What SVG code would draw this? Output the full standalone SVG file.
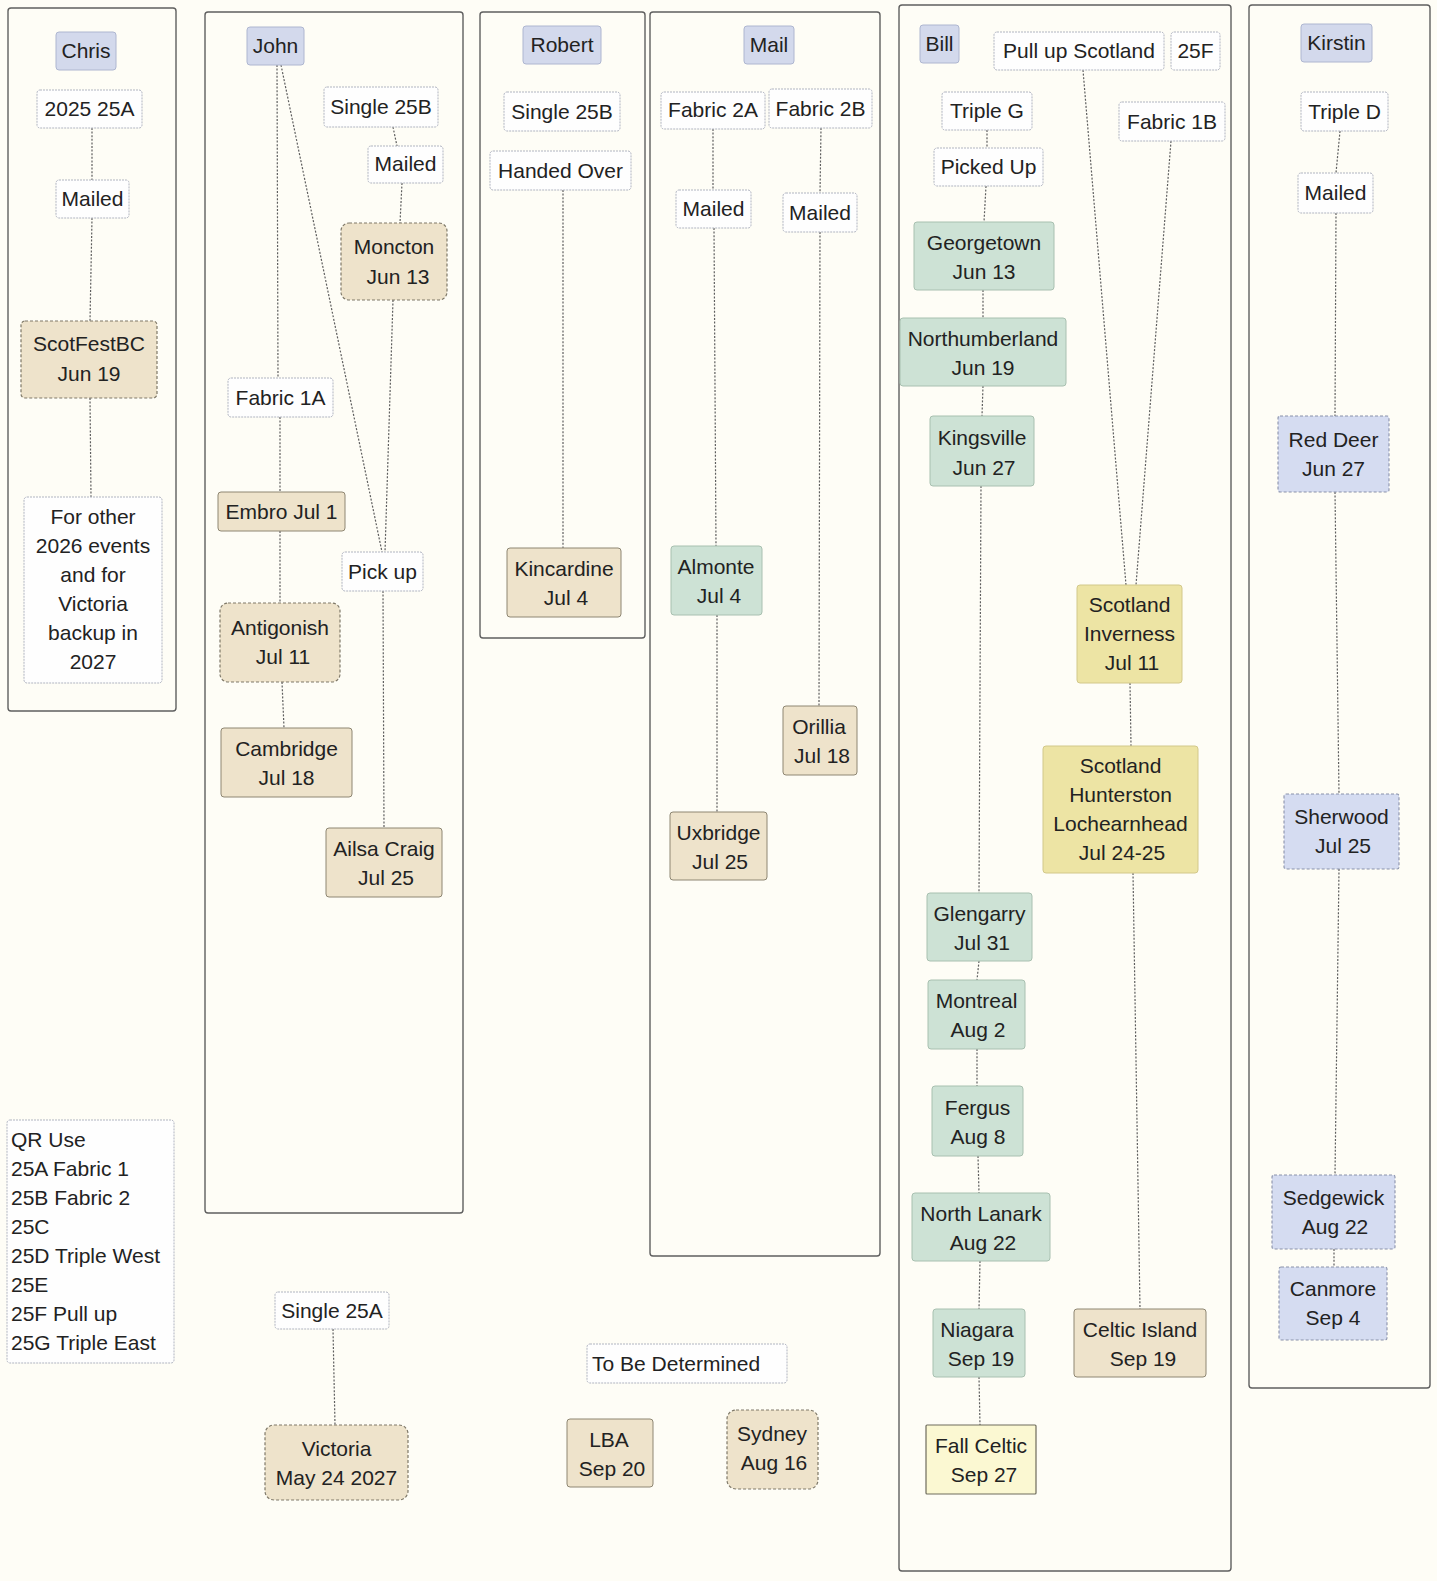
<svg xmlns="http://www.w3.org/2000/svg" width="1437" height="1581" viewBox="0 0 1437 1581">
<style>
text{font-family:"Liberation Sans",Arial,sans-serif;font-size:21px;fill:#222;text-anchor:middle}
.l{text-anchor:start}
.frame{fill:#fefdf6;stroke:#5f5f5f;stroke-width:1.4}
.who{fill:#d3d9ec;stroke:#aeb6d0;stroke-width:1}
.w{fill:#fefefe;stroke:#b0b4c0;stroke-width:1;stroke-dasharray:2 1}
.tan{fill:#eee3cb;stroke:#8e8672;stroke-width:1}
.wav{fill:#eee3cb;stroke:#7e7868;stroke-width:1.2;stroke-dasharray:3 2}
.grn{fill:#cde2d5;stroke:#a8c0b0;stroke-width:1}
.yel{fill:#ede4a4;stroke:#d2c88a;stroke-width:1}
.pale{fill:#fbf8d2;stroke:#6e6c5c;stroke-width:1.2}
.blu{fill:#d5dcf1;stroke:#8a92aa;stroke-width:1.1;stroke-dasharray:3 2}
#connectors line{stroke:#5e5e5e;stroke-width:1.2;stroke-dasharray:2 1.6;fill:none}
</style>
<rect width="1437" height="1581" fill="#fefdf6"/>
<g id="frames">
<rect id="frame-chris" class="frame" x="8" y="8" width="168" height="703" rx="3"/>
<rect id="frame-john" class="frame" x="205" y="12" width="258" height="1201" rx="3"/>
<rect id="frame-robert" class="frame" x="480" y="12" width="165" height="626" rx="3"/>
<rect id="frame-mail" class="frame" x="650" y="12" width="230" height="1244" rx="3"/>
<rect id="frame-bill" class="frame" x="899" y="5" width="332" height="1566" rx="3"/>
<rect id="frame-kirstin" class="frame" x="1249" y="5" width="181" height="1383" rx="3"/>
</g>
<g id="connectors">
<line x1="92" y1="128" x2="92" y2="180"/>
<line x1="92" y1="218" x2="90" y2="321"/>
<line x1="90" y1="398" x2="91" y2="497"/>
<line x1="277" y1="65" x2="278" y2="378"/>
<line x1="281" y1="65" x2="382" y2="552"/>
<line x1="393" y1="127" x2="397" y2="146"/>
<line x1="402" y1="183" x2="400" y2="223"/>
<line x1="393" y1="300" x2="385" y2="552"/>
<line x1="280" y1="417" x2="280" y2="492"/>
<line x1="280" y1="531" x2="280" y2="603"/>
<line x1="282" y1="682" x2="284" y2="728"/>
<line x1="383" y1="591" x2="384" y2="828"/>
<line x1="563" y1="190" x2="563" y2="548"/>
<line x1="713" y1="129" x2="713" y2="190"/>
<line x1="821" y1="128" x2="820" y2="193"/>
<line x1="714" y1="228" x2="716" y2="546"/>
<line x1="820" y1="232" x2="819" y2="706"/>
<line x1="717" y1="615" x2="717" y2="812"/>
<line x1="987" y1="130" x2="987" y2="148"/>
<line x1="986" y1="186" x2="984" y2="222"/>
<line x1="983" y1="290" x2="983" y2="318"/>
<line x1="983" y1="386" x2="982" y2="416"/>
<line x1="981" y1="486" x2="979" y2="893"/>
<line x1="979" y1="961" x2="977" y2="980"/>
<line x1="977" y1="1049" x2="977" y2="1086"/>
<line x1="978" y1="1156" x2="979" y2="1193"/>
<line x1="980" y1="1261" x2="979" y2="1309"/>
<line x1="979" y1="1377" x2="980" y2="1425"/>
<line x1="1083" y1="70" x2="1126" y2="585"/>
<line x1="1171" y1="141" x2="1136" y2="585"/>
<line x1="1130" y1="683" x2="1131" y2="746"/>
<line x1="1133" y1="873" x2="1140" y2="1309"/>
<line x1="1340" y1="131" x2="1336" y2="173"/>
<line x1="1336" y1="213" x2="1335" y2="416"/>
<line x1="1335" y1="492" x2="1339" y2="794"/>
<line x1="1339" y1="869" x2="1335" y2="1175"/>
<line x1="1334" y1="1249" x2="1334" y2="1267"/>
<line x1="333" y1="1329" x2="335" y2="1425"/>
</g>
<g id="n-chris"><rect class="who" x="56" y="32" width="60" height="38" rx="3"/><text x="86" y="58">Chris</text></g>
<g id="n-chris-2025"><rect class="w" x="37" y="90" width="105" height="38" rx="3"/><text x="89.5" y="116">2025 25A</text></g>
<g id="n-chris-mailed"><rect class="w" x="56" y="180" width="73" height="38" rx="3"/><text x="92.5" y="206">Mailed</text></g>
<g id="n-scotfest"><rect class="wav" x="21" y="321" width="136" height="77" rx="4"/><text x="89" y="351">ScotFestBC</text><text x="89" y="381">Jun 19</text></g>
<g id="n-forother"><rect class="w" x="24" y="497" width="138" height="186" rx="3"/>
<text x="93" y="524">For other</text><text x="93" y="553">2026 events</text><text x="93" y="582">and for</text><text x="93" y="611">Victoria</text><text x="93" y="640">backup in</text><text x="93" y="669">2027</text></g>

<g id="n-john"><rect class="who" x="247" y="27" width="57" height="38" rx="3"/><text x="275.5" y="53">John</text></g>
<g id="n-john-single25b"><rect class="w" x="324" y="87" width="114" height="40" rx="3"/><text x="381" y="114">Single 25B</text></g>
<g id="n-john-mailed"><rect class="w" x="368" y="146" width="75" height="37" rx="3"/><text x="405.5" y="171">Mailed</text></g>
<g id="n-moncton"><rect class="wav" x="341" y="223" width="106" height="77" rx="8"/><text x="394" y="254">Moncton</text><text x="398" y="284">Jun 13</text></g>
<g id="n-fabric1a"><rect class="w" x="228" y="378" width="105" height="39" rx="3"/><text x="280.5" y="405">Fabric 1A</text></g>
<g id="n-embro"><rect class="tan" x="218" y="492" width="127" height="39" rx="3"/><text x="281.5" y="519">Embro Jul 1</text></g>
<g id="n-pickup"><rect class="w" x="342" y="552" width="81" height="39" rx="3"/><text x="382.5" y="579">Pick up</text></g>
<g id="n-antigonish"><rect class="wav" x="220" y="603" width="120" height="79" rx="8"/><text x="280" y="635">Antigonish</text><text x="283" y="664">Jul 11</text></g>
<g id="n-cambridge"><rect class="tan" x="221" y="728" width="131" height="69" rx="3"/><text x="286.5" y="756">Cambridge</text><text x="286.5" y="785">Jul 18</text></g>
<g id="n-ailsa"><rect class="tan" x="326" y="828" width="116" height="69" rx="3"/><text x="384" y="856">Ailsa Craig</text><text x="386" y="885">Jul 25</text></g>

<g id="n-robert"><rect class="who" x="523" y="26" width="78" height="38" rx="3"/><text x="562" y="52">Robert</text></g>
<g id="n-robert-single25b"><rect class="w" x="504" y="92" width="116" height="39" rx="3"/><text x="562" y="119">Single 25B</text></g>
<g id="n-handed"><rect class="w" x="490" y="151" width="141" height="39" rx="3"/><text x="560.5" y="178">Handed Over</text></g>
<g id="n-kincardine"><rect class="tan" x="507" y="548" width="114" height="69" rx="3"/><text x="564" y="576">Kincardine</text><text x="566" y="605">Jul 4</text></g>

<g id="n-mail"><rect class="who" x="744" y="26" width="50" height="38" rx="3"/><text x="769" y="52">Mail</text></g>
<g id="n-fabric2a"><rect class="w" x="661" y="92" width="104" height="37" rx="3"/><text x="713" y="117">Fabric 2A</text></g>
<g id="n-fabric2b"><rect class="w" x="769" y="89" width="103" height="39" rx="3"/><text x="820.5" y="116">Fabric 2B</text></g>
<g id="n-mail-mailed-a"><rect class="w" x="676" y="190" width="75" height="38" rx="3"/><text x="713.5" y="216">Mailed</text></g>
<g id="n-mail-mailed-b"><rect class="w" x="783" y="193" width="74" height="39" rx="3"/><text x="820" y="220">Mailed</text></g>
<g id="n-almonte"><rect class="grn" x="671" y="546" width="91" height="69" rx="3"/><text x="716" y="574">Almonte</text><text x="719" y="603">Jul 4</text></g>
<g id="n-orillia"><rect class="tan" x="783" y="706" width="74" height="69" rx="3"/><text x="819" y="734">Orillia</text><text x="822" y="763">Jul 18</text></g>
<g id="n-uxbridge"><rect class="tan" x="670" y="812" width="97" height="68" rx="3"/><text x="718.5" y="840">Uxbridge</text><text x="720" y="869">Jul 25</text></g>

<g id="n-bill"><rect class="who" x="920" y="25" width="39" height="38" rx="3"/><text x="939.5" y="51">Bill</text></g>
<g id="n-pullup"><rect class="w" x="994" y="32" width="170" height="38" rx="3"/><text x="1079" y="58">Pull up Scotland</text></g>
<g id="n-25f"><rect class="w" x="1171" y="32" width="49" height="38" rx="3"/><text x="1195.5" y="58">25F</text></g>
<g id="n-tripleg"><rect class="w" x="942" y="92" width="90" height="38" rx="3"/><text x="987" y="118">Triple G</text></g>
<g id="n-pickedup"><rect class="w" x="934" y="148" width="109" height="38" rx="3"/><text x="988.5" y="174">Picked Up</text></g>
<g id="n-georgetown"><rect class="grn" x="914" y="222" width="140" height="68" rx="3"/><text x="984" y="250">Georgetown</text><text x="984" y="279">Jun 13</text></g>
<g id="n-northumberland"><rect class="grn" x="900" y="318" width="166" height="68" rx="3"/><text x="983" y="346">Northumberland</text><text x="983" y="375">Jun 19</text></g>
<g id="n-fabric1b"><rect class="w" x="1119" y="102" width="106" height="39" rx="3"/><text x="1172" y="129">Fabric 1B</text></g>
<g id="n-kingsville"><rect class="grn" x="930" y="416" width="104" height="70" rx="3"/><text x="982" y="445">Kingsville</text><text x="984" y="475">Jun 27</text></g>
<g id="n-inverness"><rect class="yel" x="1077" y="585" width="105" height="98" rx="3"/><text x="1129.5" y="612">Scotland</text><text x="1129.5" y="641">Inverness</text><text x="1132" y="670">Jul 11</text></g>
<g id="n-hunterston"><rect class="yel" x="1043" y="746" width="155" height="127" rx="3"/><text x="1120.5" y="773">Scotland</text><text x="1120.5" y="802">Hunterston</text><text x="1120.5" y="831">Lochearnhead</text><text x="1122" y="860">Jul 24-25</text></g>
<g id="n-glengarry"><rect class="grn" x="927" y="893" width="105" height="68" rx="3"/><text x="979.5" y="921">Glengarry</text><text x="982" y="950">Jul 31</text></g>
<g id="n-montreal"><rect class="grn" x="928" y="980" width="97" height="69" rx="3"/><text x="976.5" y="1008">Montreal</text><text x="978" y="1037">Aug 2</text></g>
<g id="n-fergus"><rect class="grn" x="932" y="1086" width="91" height="70" rx="3"/><text x="977.5" y="1115">Fergus</text><text x="978" y="1144">Aug 8</text></g>
<g id="n-northlanark"><rect class="grn" x="912" y="1193" width="138" height="68" rx="3"/><text x="981" y="1221">North Lanark</text><text x="983" y="1250">Aug 22</text></g>
<g id="n-niagara"><rect class="grn" x="933" y="1309" width="92" height="68" rx="3"/><text x="977" y="1337">Niagara</text><text x="981" y="1366">Sep 19</text></g>
<g id="n-fallceltic"><rect class="pale" x="926" y="1425" width="110" height="69" rx="1"/><text x="981" y="1453">Fall Celtic</text><text x="984" y="1482">Sep 27</text></g>
<g id="n-celticisland"><rect class="tan" x="1074" y="1309" width="132" height="68" rx="3"/><text x="1140" y="1337">Celtic Island</text><text x="1143" y="1366">Sep 19</text></g>

<g id="n-kirstin"><rect class="who" x="1301" y="24" width="71" height="38" rx="3"/><text x="1336.5" y="50">Kirstin</text></g>
<g id="n-tripled"><rect class="w" x="1301" y="92" width="87" height="39" rx="3"/><text x="1344.5" y="119">Triple D</text></g>
<g id="n-kirstin-mailed"><rect class="w" x="1298" y="173" width="75" height="40" rx="3"/><text x="1335.5" y="200">Mailed</text></g>
<g id="n-reddeer"><rect class="blu" x="1278" y="416" width="111" height="76" rx="2"/><text x="1333.5" y="447">Red Deer</text><text x="1333.5" y="476">Jun 27</text></g>
<g id="n-sherwood"><rect class="blu" x="1284" y="794" width="115" height="75" rx="2"/><text x="1341.5" y="824">Sherwood</text><text x="1343" y="853">Jul 25</text></g>
<g id="n-sedgewick"><rect class="blu" x="1272" y="1175" width="123" height="74" rx="2"/><text x="1333.5" y="1205">Sedgewick</text><text x="1335" y="1234">Aug 22</text></g>
<g id="n-canmore"><rect class="blu" x="1279" y="1267" width="108" height="73" rx="2"/><text x="1333" y="1296">Canmore</text><text x="1333" y="1325">Sep 4</text></g>

<g id="n-qr"><rect class="w" x="7" y="1120" width="167" height="243" rx="3"/>
<text class="l" x="11" y="1147">QR Use</text><text class="l" x="11" y="1176">25A Fabric 1</text><text class="l" x="11" y="1205">25B Fabric 2</text><text class="l" x="11" y="1234">25C</text><text class="l" x="11" y="1263">25D Triple West</text><text class="l" x="11" y="1292">25E</text><text class="l" x="11" y="1321">25F Pull up</text><text class="l" x="11" y="1350">25G Triple East</text></g>
<g id="n-single25a"><rect class="w" x="275" y="1292" width="114" height="37" rx="3"/><text x="332" y="1318">Single 25A</text></g>
<g id="n-victoria"><rect class="wav" x="265" y="1425" width="143" height="75" rx="9"/><text x="336.5" y="1456">Victoria</text><text x="336.5" y="1485">May 24 2027</text></g>
<g id="n-tbd"><rect class="w" x="587" y="1344" width="200" height="39" rx="3"/><text class="l" x="592" y="1371">To Be Determined</text></g>
<g id="n-lba"><rect class="tan" x="567" y="1419" width="86" height="68" rx="3"/><text x="609" y="1447">LBA</text><text x="612" y="1476">Sep 20</text></g>
<g id="n-sydney"><rect class="wav" x="727" y="1410" width="91" height="79" rx="9"/><text x="772" y="1441">Sydney</text><text x="774" y="1470">Aug 16</text></g>
</svg>
